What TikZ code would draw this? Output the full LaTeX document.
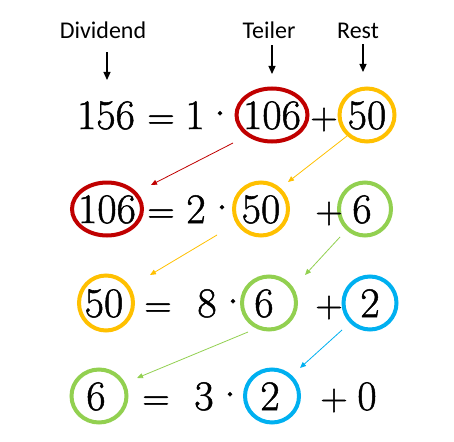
\RequirePackage{fix-cm}
\documentclass[tikz,border=0pt]{standalone}
\usepackage{fontspec}
\newfontfamily\lblfont{Carlito}
\newfontfamily\numfont[FakeBold=1.2]{Latin Modern Roman}
\usetikzlibrary{arrows.meta,shapes.geometric}
\definecolor{cred}{HTML}{C00000}
\definecolor{cyel}{HTML}{FFC000}
\definecolor{cgrn}{HTML}{92D050}
\definecolor{cblu}{HTML}{00B0F0}
\newcommand{\mdot}{\makebox[6pt]{·}}
\begin{document}
\begin{tikzpicture}[x=1pt,y=-1pt,
  num/.style={anchor=base,inner sep=0pt,font=\numfont\fontsize{42}{50}\selectfont},
  op/.style={anchor=base,inner sep=0pt,font=\numfont\fontsize{38}{44}\selectfont},
  dotop/.style={anchor=base,inner sep=0pt,font=\numfont\fontsize{46}{54}\selectfont},
  ring/.style={ellipse,draw=#1,line width=4pt,inner sep=0pt},
  lbl/.style={anchor=base,inner sep=0pt,font=\lblfont\fontsize{24}{28}\selectfont},
  darr/.style={line width=1.2pt,-{Triangle[length=8pt,width=7pt]}},
  carr/.style={draw=#1,line width=0.8pt,-{Triangle[length=6pt,width=5pt]}}]
\useasboundingbox (0,0) rectangle (454,441);
% labels
\node[lbl] (lD) at (103,39) {Dividend};
\node[lbl] (lT) at (269,39) {Teiler};
\node[lbl] (lR) at (358,39) {Rest};
\coordinate (aD) at (107,80);
\coordinate (aT) at (272,74);
\coordinate (aR) at (363,72);
\draw[darr] ([xshift=4pt,yshift=-13pt]lD.south) -- (aD);
\draw[darr] ([xshift=3pt,yshift=-6pt]lT.south) -- (aT);
\draw[darr] ([xshift=5pt,yshift=-5pt]lR.south) -- (aR);
% ellipses
\node[ring=cred,minimum width=71pt,minimum height=53pt] (e1a) at (272,115) {};
\node[ring=cyel,minimum width=55pt,minimum height=53pt] (e1b) at (367,115) {};
\node[ring=cred,minimum width=70pt,minimum height=53pt] (e2a) at (107,209) {};
\node[ring=cyel,minimum width=54pt,minimum height=53pt] (e2b) at (261,209) {};
\node[ring=cgrn,minimum width=52pt,minimum height=53pt] (e2c) at (365,209) {};
\node[ring=cyel,minimum width=54pt,minimum height=55pt] (e3a) at (106,303) {};
\node[ring=cgrn,minimum width=54pt,minimum height=53pt] (e3b) at (269,303) {};
\node[ring=cblu,minimum width=53pt,minimum height=53pt] (e3c) at (370,303) {};
\node[ring=cgrn,minimum width=55pt,minimum height=53pt] (e4a) at (99,396) {};
\node[ring=cblu,minimum width=54pt,minimum height=53pt] (e4b) at (272,396) {};
% row 1
\node[num] (n1a) at (106,129) {156};
\node[op]  (o1a) at (161,129) {=};
\node[num] (n1b) at (195,129) {1};
\node[dotop] (o1b) at (220,129) {\mdot};
\node[num] (n1c) at (272,129) {106};
\node[op]  (o1c) at (324,129) {+};
\node[num] (n1d) at (367,129) {50};
% row 2
\node[num] (n2a) at (107,223) {106};
\node[op]  (o2a) at (161,223) {=};
\node[num] (n2b) at (196,223) {2};
\node[dotop] (o2b) at (222,223) {\mdot};
\node[num] (n2c) at (261,223) {50};
\node[op]  (o2c) at (329,223) {+};
\node[num] (n2d) at (362,223) {6};
% row 3
\node[num] (n3a) at (104,317) {50};
\node[op]  (o3a) at (158,317) {=};
\node[num] (n3b) at (207,317) {8};
\node[dotop] (o3b) at (233,317) {\mdot};
\node[num] (n3c) at (264,317) {6};
\node[op]  (o3c) at (329,317) {+};
\node[num] (n3d) at (370,317) {2};
% row 4
\node[num] (n4a) at (96,410) {6};
\node[op]  (o4a) at (156,410) {=};
\node[num] (n4b) at (204,410) {3};
\node[dotop] (o4b) at (230,410) {\mdot};
\node[num] (n4c) at (270,410) {2};
\node[op]  (o4c) at (334,410) {+};
\node[num] (n4d) at (367,410) {0};
% coloured arrows
\draw[carr=cred] ([shift={(-39,28)}]e1a.center) -- ([shift={(44,-24)}]e2a.center);
\draw[carr=cyel] ([shift={(-20,21)}]e1b.center) -- ([shift={(27,-27)}]e2b.center);
\draw[carr=cyel] ([shift={(-44,26)}]e2b.center) -- ([shift={(44,-28)}]e3a.center);
\draw[carr=cgrn] ([shift={(-25,28)}]e2c.center) -- ([shift={(36,-28)}]e3b.center);
\draw[carr=cgrn] ([shift={(-21,29)}]e3b.center) -- ([shift={(38,-18)}]e4a.center);
\draw[carr=cblu] ([shift={(-28,27)}]e3c.center) -- ([shift={(28,-28)}]e4b.center);
\end{tikzpicture}
\end{document}
